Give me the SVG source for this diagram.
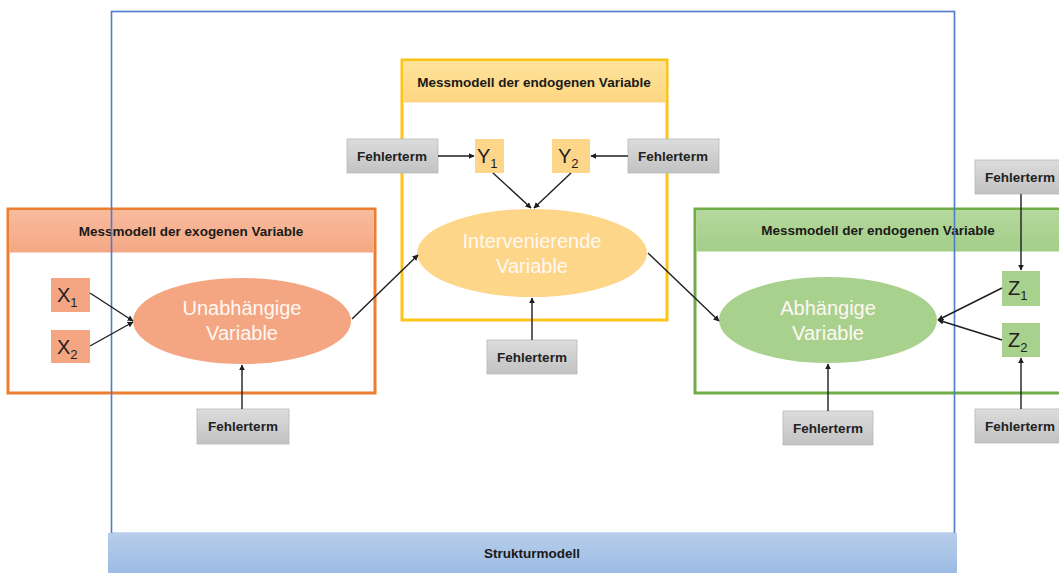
<svg xmlns="http://www.w3.org/2000/svg" width="1059" height="573" viewBox="0 0 1059 573">
  <style>
    .hdr { font-family: "Liberation Sans", Arial, sans-serif; font-size: 13.5px; font-weight: bold; fill: #1a1a1a; text-anchor: middle; }
    .err rect { fill: url(#gGray); stroke: #b8b8b8; stroke-width: 0.8; }
    .err text { font-family: "Liberation Sans", Arial, sans-serif; font-size: 13.5px; font-weight: bold; fill: #222; text-anchor: middle; }
    .lat text { font-family: "Liberation Sans", Arial, sans-serif; font-size: 20px; fill: #fff8f2; text-anchor: middle; }
    .ind text { font-family: "Liberation Sans", Arial, sans-serif; font-size: 20px; fill: #222; }
    .ind tspan.sub { font-size: 13px; }
    .conn line { stroke: #1e1e1e; stroke-width: 1.4; marker-end: url(#arr); }
  </style>
  <defs>
    <marker id="arr" viewBox="0 0 10 10" refX="9" refY="5" markerWidth="6" markerHeight="6" orient="auto" markerUnits="userSpaceOnUse">
      <path d="M0,0 L10,5 L0,10 z" fill="#1e1e1e"/>
    </marker>
    <linearGradient id="gGray" x1="0" y1="0" x2="0" y2="1">
      <stop offset="0" stop-color="#dcdcdc"/>
      <stop offset="1" stop-color="#c2c2c2"/>
    </linearGradient>
    <linearGradient id="gBlue" x1="0" y1="0" x2="0" y2="1">
      <stop offset="0" stop-color="#b7cdea"/>
      <stop offset="1" stop-color="#9cbce4"/>
    </linearGradient>
    <linearGradient id="gOrange" x1="0" y1="0" x2="0" y2="1">
      <stop offset="0" stop-color="#f8bb9d"/>
      <stop offset="1" stop-color="#f4a884"/>
    </linearGradient>
    <linearGradient id="gYellow" x1="0" y1="0" x2="0" y2="1">
      <stop offset="0" stop-color="#fee39a"/>
      <stop offset="1" stop-color="#fdd582"/>
    </linearGradient>
    <linearGradient id="gGreen" x1="0" y1="0" x2="0" y2="1">
      <stop offset="0" stop-color="#b5d89d"/>
      <stop offset="1" stop-color="#a3ce88"/>
    </linearGradient>
  </defs>

  <rect width="1059" height="573" fill="#ffffff"/>

  <!-- measurement model frames -->
  <g id="mm-exogen">
    <rect x="8" y="209" width="367" height="184" fill="#ffffff" stroke="#ed7d31" stroke-width="3"/>
    <rect x="9.5" y="210.5" width="364" height="42" fill="url(#gOrange)"/>
    <text class="hdr" x="191" y="236">Messmodell der exogenen Variable</text>
  </g>
  <g id="mm-intervening">
    <rect x="402" y="60" width="265" height="260" fill="#ffffff" stroke="#fcc419" stroke-width="3"/>
    <rect x="403.5" y="61.5" width="262" height="41" fill="url(#gYellow)"/>
    <text class="hdr" x="534" y="87">Messmodell der endogenen Variable</text>
  </g>
  <g id="mm-endogen">
    <rect x="695" y="209" width="372" height="184" fill="#ffffff" stroke="#70ad47" stroke-width="3"/>
    <rect x="696.5" y="210.5" width="369" height="41" fill="url(#gGreen)"/>
    <text class="hdr" x="878" y="235">Messmodell der endogenen Variable</text>
  </g>

  <!-- structural model frame -->
  <g id="strukturmodell">
    <rect x="111.5" y="11.5" width="843" height="522" fill="none" stroke="#4f7bcb" stroke-width="1.6"/>
    <rect x="108" y="533" width="849" height="40" fill="url(#gBlue)"/>
    <text class="hdr" x="532" y="558">Strukturmodell</text>
  </g>

  <!-- latent variables -->
  <g id="unabhaengige" class="lat">
    <ellipse cx="242" cy="321" rx="109" ry="43" fill="#f4a683"/>
    <text x="242" y="315">Unabhängige</text>
    <text x="242" y="340">Variable</text>
  </g>
  <g id="intervenierende" class="lat">
    <ellipse cx="532" cy="253" rx="115" ry="44" fill="#fdd68a"/>
    <text x="532" y="248">Intervenierende</text>
    <text x="532" y="273">Variable</text>
  </g>
  <g id="abhaengige" class="lat">
    <ellipse cx="828" cy="320" rx="109" ry="43" fill="#a9d18e"/>
    <text x="828" y="315">Abhängige</text>
    <text x="828" y="340">Variable</text>
  </g>

  <!-- indicators -->
  <g id="x1" class="ind">
    <rect x="51" y="278" width="39" height="34" fill="#f4a683"/>
    <text x="57" y="302">X<tspan class="sub" dy="5">1</tspan></text>
  </g>
  <g id="x2" class="ind">
    <rect x="51" y="330" width="39" height="33" fill="#f4a683"/>
    <text x="57" y="354">X<tspan class="sub" dy="5">2</tspan></text>
  </g>
  <g id="y1" class="ind">
    <rect x="475" y="139" width="29" height="34" fill="#fdd68a"/>
    <text x="477" y="163">Y<tspan class="sub" dy="5">1</tspan></text>
  </g>
  <g id="y2" class="ind">
    <rect x="552" y="139" width="38" height="34" fill="#fdd68a"/>
    <text x="558" y="163">Y<tspan class="sub" dy="5">2</tspan></text>
  </g>
  <g id="z1" class="ind">
    <rect x="1002" y="271" width="38" height="35" fill="#a9d18e"/>
    <text x="1008" y="295">Z<tspan class="sub" dy="5">1</tspan></text>
  </g>
  <g id="z2" class="ind">
    <rect x="1002" y="323" width="38" height="34" fill="#a9d18e"/>
    <text x="1008" y="347">Z<tspan class="sub" dy="5">2</tspan></text>
  </g>

  <!-- error terms -->
  <g id="err-unabh" class="err">
    <rect x="197" y="409" width="92" height="35"/>
    <text x="243" y="431">Fehlerterm</text>
  </g>
  <g id="err-y1" class="err">
    <rect x="347" y="139" width="91" height="34"/>
    <text x="392" y="161">Fehlerterm</text>
  </g>
  <g id="err-y2" class="err">
    <rect x="628" y="139" width="91" height="34"/>
    <text x="673" y="161">Fehlerterm</text>
  </g>
  <g id="err-interv" class="err">
    <rect x="487" y="340" width="90" height="34"/>
    <text x="532" y="362">Fehlerterm</text>
  </g>
  <g id="err-abh" class="err">
    <rect x="783" y="411" width="90" height="34"/>
    <text x="828" y="433">Fehlerterm</text>
  </g>
  <g id="err-z1" class="err">
    <rect x="975" y="160" width="92" height="34"/>
    <text x="1020" y="182">Fehlerterm</text>
  </g>
  <g id="err-z2" class="err">
    <rect x="975" y="409" width="92" height="34"/>
    <text x="1020" y="431">Fehlerterm</text>
  </g>

  <!-- connectors -->
  <g id="connectors" class="conn">
    <line x1="90" y1="293" x2="133" y2="321"/>
    <line x1="90" y1="346" x2="133" y2="322"/>
    <line x1="242" y1="409" x2="242" y2="365"/>
    <line x1="352" y1="319" x2="418" y2="255"/>
    <line x1="438" y1="156" x2="474" y2="156"/>
    <line x1="628" y1="156" x2="591" y2="156"/>
    <line x1="493" y1="173" x2="531" y2="208"/>
    <line x1="571" y1="173" x2="534" y2="208"/>
    <line x1="532" y1="340" x2="532" y2="298"/>
    <line x1="648" y1="253" x2="719" y2="321"/>
    <line x1="828" y1="411" x2="828" y2="364"/>
    <line x1="1002" y1="288" x2="938" y2="320"/>
    <line x1="1002" y1="340" x2="938" y2="320"/>
    <line x1="1021" y1="194" x2="1021" y2="270"/>
    <line x1="1021" y1="409" x2="1021" y2="358"/>
  </g>
</svg>
